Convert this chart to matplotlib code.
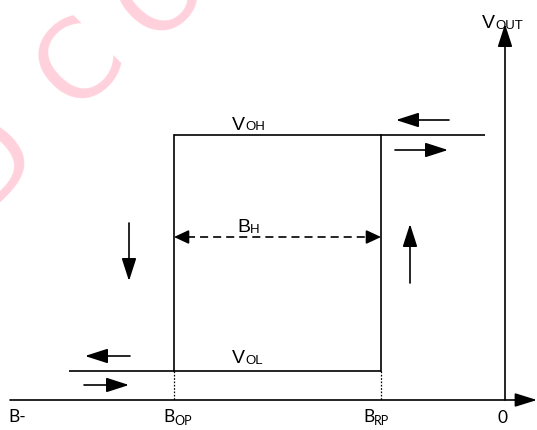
import matplotlib
matplotlib.use("Agg")
import matplotlib.pyplot as plt

plt.rcParams['lines.scale_dashes'] = False

# ---- diagram values (pixel-like units, y grows downward) ----
B_AXIS_START = 10          # left end of the B axis
B_AXIS_END = 537           # tip of the B axis arrow
B_OP = 174                 # operate point
B_RP = 381                 # release point
B_ZERO = 505               # position of B = 0 (Vout axis)
AXIS_Y = 400               # level of the B axis
VOUT_TOP = 24              # tip of the Vout axis arrow
V_OH = 135                 # output high level
V_OL = 371                 # output low level
HIGH_RIGHT_END = 485       # right end of V_OH branch
LOW_LEFT_END = 69          # left end of V_OL branch
B_H_LEVEL = 237            # level of the hysteresis width arrow

# direction arrows: (tail, tip)
DIR_ARROWS = [
    ((449, 120), (396, 120)),   # along V_OH, moving left
    ((395, 150), (448, 150)),   # along V_OH, moving right
    ((129, 223), (129, 281)),   # falling at B_OP
    ((410, 283), (410, 224)),   # rising at B_RP
    ((130, 356), (85, 356)),    # along V_OL, moving left
    ((84, 385), (129, 385)),    # along V_OL, moving right
]

# labels: (x, baseline, main, sub)
SANS_LABELS = [
    (482, 28, "V", "OUT"),
    (232, 129.5, "V", "OH"),
    (237, 232, "B", "H"),
    (232, 363, "V", "OL"),
]
AXIS_LABELS = [
    (8, 422, "B-", ""),
    (163, 422, "B", "OP"),
    (363, 422, "B", "RP"),
    (498, 423, "0", ""),
]

WATERMARK = [("D", -10, 160), ("C", 80, 64), ("O", 162, -8)]

W, H = 537, 430
fig = plt.figure(figsize=(W / 100, H / 100), dpi=100)
ax = fig.add_axes([0, 0, 1, 1])
ax.set_xlim(0, W)
ax.set_ylim(H, 0)
ax.axis('off')
renderer = fig.canvas.get_renderer()

LW = 1.2
K = 'black'

# watermark
for ch, x, y in WATERMARK:
    ax.text(x, y, ch, fontsize=78, color='#ffd1dc', rotation=45,
            rotation_mode='anchor', ha='center', va='center',
            family='DejaVu Sans', zorder=0)


def arrow(tail, tip, hl=1.4, hw=0.45, ls='-'):
    ax.annotate("", xy=tip, xytext=tail, xycoords='data', textcoords='data',
                arrowprops=dict(arrowstyle=f"-|>,head_length={hl},head_width={hw}",
                                mutation_scale=10, lw=LW, color=K,
                                shrinkA=0, shrinkB=0, linestyle=ls), zorder=3)


# axes
arrow((B_AXIS_START, AXIS_Y), (B_AXIS_END, AXIS_Y), hl=1.35, hw=0.42)
arrow((B_ZERO, AXIS_Y), (B_ZERO, VOUT_TOP), hl=1.4, hw=0.45)

# hysteresis loop
ax.plot([B_OP, HIGH_RIGHT_END], [V_OH, V_OH], color=K, lw=LW, solid_capstyle='butt')
ax.plot([LOW_LEFT_END, B_RP], [V_OL, V_OL], color=K, lw=LW, solid_capstyle='butt')
ax.plot([B_OP, B_OP], [V_OH, V_OL], color=K, lw=LW)
ax.plot([B_RP, B_RP], [V_OH, V_OL], color=K, lw=LW)

# dotted projections
for bx in (B_OP, B_RP):
    ax.plot([bx, bx], [V_OL, AXIS_Y], color=K, lw=0.9, dashes=(1.2, 1.2))

# B_H dashed double arrow
HEAD = 13
ax.plot([B_OP + HEAD, B_RP - HEAD], [B_H_LEVEL, B_H_LEVEL], color=K, lw=LW,
        dashes=(5.8, 3.6))
arrow((B_OP + HEAD, B_H_LEVEL), (B_OP, B_H_LEVEL), hl=0.9, hw=0.42)
arrow((B_RP - HEAD, B_H_LEVEL), (B_RP, B_H_LEVEL), hl=0.9, hw=0.42)

# direction arrows
for tail, tip in DIR_ARROWS:
    arrow(tail, tip)


def sub_label(x, y, main, sub, family, size, subsize, drop):
    t = ax.text(x, y, main, family=family, fontsize=size, ha='left',
                va='baseline', color=K)
    if sub:
        w = t.get_window_extent(renderer).width
        ax.annotate(sub, xy=(x, y), xytext=(w, -drop), textcoords='offset pixels',
                    family=family, fontsize=subsize, ha='left', va='baseline',
                    color=K)


for x, y, m, s in SANS_LABELS:
    sub_label(x, y, m, s, 'Liberation Sans', 14, 9.5, 1)
for x, y, m, s in AXIS_LABELS:
    sub_label(x, y, m, s, 'Lato', 12.5, 9, 3)

fig.savefig('out.png', dpi=100)
